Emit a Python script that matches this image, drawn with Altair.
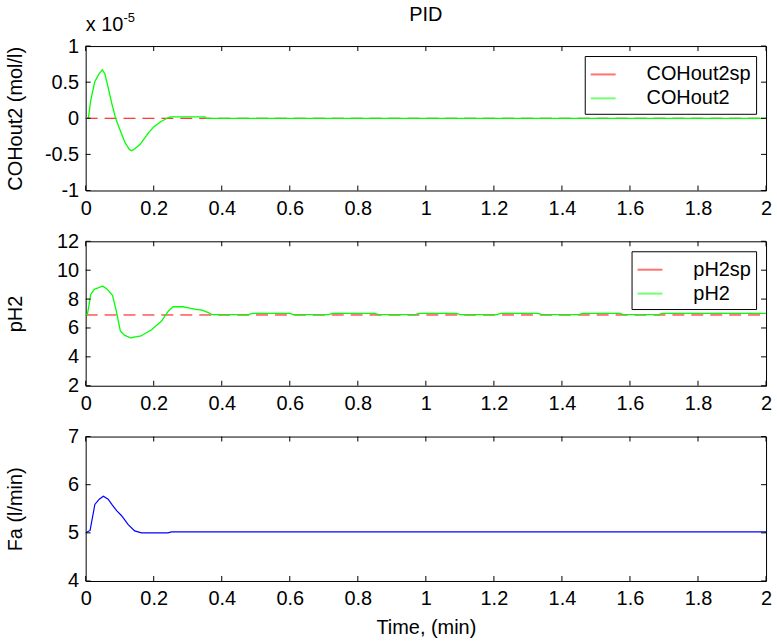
import altair as alt
import pandas as pd

FONT = "Liberation Sans"
FS = 20

# ---------------- data ----------------
x_ticks = [0, 0.2, 0.4, 0.6, 0.8, 1, 1.2, 1.4, 1.6, 1.8, 2]

co_t = [0, 0.008, 0.015, 0.027, 0.04, 0.049, 0.056, 0.065, 0.076, 0.088, 0.1, 0.115,
        0.128, 0.135, 0.145, 0.16, 0.171, 0.185, 0.2, 0.22, 0.239, 0.25, 0.35, 0.355, 2.0]
co_v = [0, 0, 0.25, 0.51, 0.62, 0.67, 0.62, 0.45, 0.22, 0.0, -0.15, -0.33,
        -0.43, -0.45, -0.42, -0.36, -0.29, -0.2, -0.12, -0.05, 0.0, 0.02, 0.02, 0.0, 0.0]
co_sp_t = [0, 2.0]
co_sp_v = [0, 0]
co_ticks = [-1, -0.5, 0, 0.5, 1]

ph_t = [0, 0.005, 0.015, 0.025, 0.05, 0.064, 0.079, 0.089, 0.102, 0.114, 0.132, 0.145,
        0.163, 0.193, 0.223, 0.243, 0.257, 0.287, 0.322, 0.342, 0.361, 0.371, 0.48, 0.49,
        0.6, 0.61, 0.715, 0.725, 0.85, 0.86, 0.97, 0.98, 1.09, 1.1, 1.21, 1.22, 1.33,
        1.34, 1.45, 1.46, 1.57, 1.58, 1.685, 1.695, 2.0]
ph_v = [6.92, 6.92, 8.32, 8.67, 8.9, 8.67, 8.25, 7.29, 5.79, 5.5, 5.31, 5.38,
        5.45, 5.86, 6.48, 7.17, 7.47, 7.47, 7.29, 7.24, 7.06, 6.93, 6.93, 7.01,
        7.01, 6.93, 6.93, 7.01, 7.01, 6.93, 6.93, 7.01, 7.01, 6.93, 6.93, 7.01, 7.01,
        6.93, 6.93, 7.01, 7.01, 6.93, 6.93, 7.01, 7.01]
ph_sp_t = [0, 2.0]
ph_sp_v = [6.9, 6.9]
ph_ticks = [2, 4, 6, 8, 10, 12]

fa_t = [0, 0.013, 0.027, 0.04, 0.052, 0.066, 0.078, 0.091, 0.105, 0.125, 0.144, 0.164,
        0.242, 0.252, 2.0]
fa_v = [5.0, 5.05, 5.59, 5.7, 5.76, 5.7, 5.58, 5.46, 5.36, 5.17, 5.04, 5.0,
        5.0, 5.02, 5.02]
fa_ticks = [4, 5, 6, 7]

W, H = 683, 145
TL = 5  # inward tick length

LABEL_EXPR = "replace(format(datum.value, '~g'), '\u2212', '-')"


def legend_def():
    return alt.Legend(orient="top-right", offset=10, title=None,
                      symbolType="stroke", symbolSize=625,
                      symbolStrokeWidth=2, symbolOpacity=0.55,
                      labelFontSize=FS, labelFont=FONT,
                      labelColor="black", labelOffset=30,
                      labelExpr="datum.label + '\u00a0\u00a0'",
                      fillColor="white", strokeColor="black",
                      padding=5, rowPadding=0)


def panel(lines, ydom, yticks, ytitle, legend_names=None, colors=None,
          xlabel=None, extra=None):
    xs = alt.Scale(domain=[0, 2], nice=False, zero=False)
    ys = alt.Scale(domain=ydom, nice=False, zero=False)

    x_axis = alt.Axis(values=x_ticks, ticks=False, domain=False, grid=False,
                      labelPadding=8, labelFontSize=FS, labelFont=FONT,
                      labelColor="black", labelFlush=False, labelOverlap=False,
                      title=xlabel if xlabel else None,
                      titleFontSize=FS, titleFont=FONT, titleFontWeight="normal",
                      titleColor="black", titlePadding=9,
                      labelExpr=LABEL_EXPR)
    y_axis = alt.Axis(values=yticks, ticks=False, domain=False, grid=False,
                      labelPadding=7, labelFontSize=FS, labelFont=FONT,
                      labelColor="black", labelFlush=False, labelOverlap=False,
                      title=ytitle, titleFontSize=FS, titleFont=FONT,
                      titleFontWeight="normal", titleColor="black",
                      titleX=-60, titleBaseline="bottom",
                      labelExpr=LABEL_EXPR)
    x_enc = alt.X("t:Q", scale=xs, axis=x_axis)
    y_enc = alt.Y("v:Q", scale=ys, axis=y_axis)

    layers = []
    if legend_names:
        color = alt.Color("s:N", scale=alt.Scale(domain=legend_names, range=colors),
                          legend=legend_def())
        dash = alt.StrokeDash("d:N", scale=alt.Scale(domain=["dash", "solid"],
                                                     range=[[12, 7], [1, 0]]),
                              legend=None)
        for (name, t, v), d, sw in zip(lines, ["dash", "solid"], [1, 1.3]):
            df = pd.DataFrame({"t": t, "v": v, "s": name, "d": d})
            layers.append(alt.Chart(df).mark_line(strokeWidth=sw, clip=True)
                          .encode(x=x_enc, y=y_enc, color=color, strokeDash=dash,
                                  order=alt.Order("t:Q")))
    else:
        name, t, v = lines[0]
        df = pd.DataFrame({"t": t, "v": v, "s": name})
        layers.append(alt.Chart(df).mark_line(strokeWidth=1.2, color=colors[0], clip=True)
                      .encode(x=x_enc, y=y_enc, order=alt.Order("t:Q")))

    xt = pd.DataFrame({"tick": x_ticks})
    yt = pd.DataFrame({"tick": yticks})
    layers += [
        alt.Chart(xt).mark_rule(color="black", strokeWidth=1).encode(
            x=alt.X("tick:Q", scale=xs, axis=x_axis), y=alt.value(H), y2=alt.value(H - TL)),
        alt.Chart(xt).mark_rule(color="black", strokeWidth=1).encode(
            x=alt.X("tick:Q", scale=xs, axis=x_axis), y=alt.value(0), y2=alt.value(TL)),
        alt.Chart(yt).mark_rule(color="black", strokeWidth=1).encode(
            y=alt.Y("tick:Q", scale=ys, axis=y_axis), x=alt.value(0), x2=alt.value(TL)),
        alt.Chart(yt).mark_rule(color="black", strokeWidth=1).encode(
            y=alt.Y("tick:Q", scale=ys, axis=y_axis), x=alt.value(W), x2=alt.value(W - TL)),
    ]
    if extra:
        layers += extra
    return alt.layer(*layers).properties(width=W, height=H)


one = pd.DataFrame({"a": [0]})
title_txt = alt.Chart(one).mark_text(text="PID", align="center", baseline="alphabetic",
                                     font=FONT, fontSize=FS, color="black").encode(
    x=alt.value(W / 2), y=alt.value(-25))
exp_main = alt.Chart(one).mark_text(text="x 10", align="left", baseline="alphabetic",
                                    font=FONT, fontSize=FS, color="black").encode(
    x=alt.value(0), y=alt.value(-15))
exp_sup = alt.Chart(one).mark_text(text="-5", align="left", baseline="alphabetic",
                                   font=FONT, fontSize=13, color="black").encode(
    x=alt.value(38), y=alt.value(-24))

p1 = panel([("COHout2sp", co_sp_t, co_sp_v), ("COHout2", co_t, co_v)],
           [-1, 1], co_ticks, "COHout2 (mol/l)",
           legend_names=["COHout2sp", "COHout2"], colors=["#ff0000", "#00ff00"],
           extra=[title_txt, exp_main, exp_sup])
p2 = panel([("pH2sp", ph_sp_t, ph_sp_v), ("pH2", ph_t, ph_v)],
           [2, 12], ph_ticks, "pH2",
           legend_names=["pH2sp", "pH2"], colors=["#ff0000", "#00ff00"])
p3 = panel([("Fa", fa_t, fa_v)], [4, 7], fa_ticks, "Fa (l/min)",
           colors=["#0000ff"], xlabel="Time, (min)")

chart = alt.vconcat(p1, p2, p3, spacing=51, bounds="flush").resolve_scale(
    color="independent", strokeDash="independent").properties(
    padding={"left": 5, "top": 3, "right": 4, "bottom": 0}, background="white"
).configure_view(stroke="black", strokeWidth=1)

chart.save("out.html", embed_options={"renderer": "svg", "actions": False})
